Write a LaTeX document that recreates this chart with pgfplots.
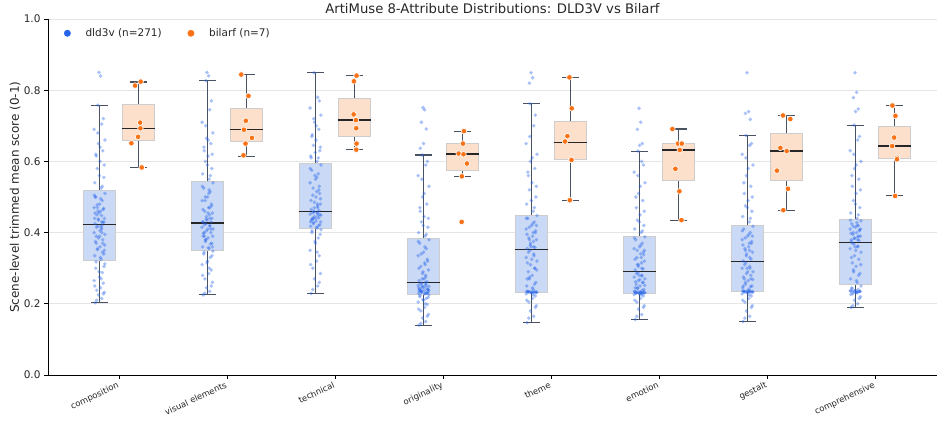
\documentclass[border=0pt]{standalone}
\usepackage{fontspec}
\setmainfont{DejaVu Sans}
\usepackage{pgfplots}
\usepackage{pgfplotstable}
\pgfplotsset{compat=1.18}
\usepgfplotslibrary{statistics}

\definecolor{cblue}{RGB}{37,99,235}
\definecolor{corange}{RGB}{249,115,22}
\definecolor{bfill}{RGB}{201,217,246}
\definecolor{ofill}{RGB}{253,224,204}
\definecolor{wcol}{RGB}{72,82,98}
\definecolor{gridc}{RGB}{229,229,229}
\definecolor{edgec}{RGB}{205,205,205}

% dld3v scene scores (representative subset), columns per attribute
\pgfplotstableread[row sep=\\]{
j y0 y1 y2 y3 y4 y5 y6 y7 \\
-0.04 .203 .225 .229 .140 .147 .156 .150 .190 \\
0.02 .215 .235 .25 .15 .165 .17 .165 .20 \\
-0.01 .225 .245 .27 .16 .18 .185 .18 .21 \\
0.045 .232 .26 .285 .17 .195 .195 .195 .22 \\
-0.025 .238 .27 .30 .18 .205 .205 .205 .228 \\
0.01 .245 .285 .32 .19 .215 .215 .215 .232 \\
0.035 .258 .295 .335 .198 .222 .222 .222 .234 \\
-0.05 .265 .31 .35 .205 .228 .226 .228 .236 \\
0.0 .275 .32 .37 .21 .231 .228 .232 .238 \\
0.025 .288 .33 .385 .215 .233 .229 .234 .24 \\
-0.035 .30 .34 .40 .22 .234 .23 .235 .245 \\
0.05 .312 .348 .408 .225 .232 .231 .233 .25 \\
0.015 .325 .355 .413 .228 .24 .232 .238 .26 \\
-0.045 .335 .36 .418 .23 .25 .235 .245 .27 \\
0.04 .34 .37 .422 .232 .26 .24 .25 .285 \\
-0.02 .352 .375 .428 .235 .27 .245 .26 .295 \\
0.005 .36 .385 .432 .238 .28 .25 .265 .305 \\
-0.03 .37 .39 .437 .24 .29 .255 .27 .315 \\
0.03 .38 .40 .441 .243 .30 .26 .28 .325 \\
-0.01 .385 .405 .445 .246 .31 .265 .285 .335 \\
0.05 .395 .41 .449 .249 .32 .27 .29 .345 \\
-0.05 .40 .415 .452 .252 .33 .275 .30 .355 \\
0.02 .41 .42 .455 .255 .34 .28 .305 .36 \\
-0.015 .418 .425 .458 .258 .35 .287 .315 .368 \\
-0.04 .425 .43 .465 .265 .355 .295 .32 .375 \\
0.02 .43 .44 .475 .275 .36 .30 .33 .38 \\
-0.01 .435 .445 .485 .285 .37 .31 .34 .385 \\
0.045 .44 .455 .495 .295 .38 .32 .345 .39 \\
-0.025 .45 .46 .505 .305 .385 .33 .355 .395 \\
0.01 .46 .47 .515 .315 .39 .34 .36 .40 \\
0.035 .465 .48 .53 .325 .40 .345 .37 .405 \\
-0.05 .47 .49 .54 .335 .41 .355 .38 .41 \\
0.0 .48 .50 .55 .345 .42 .36 .39 .415 \\
0.025 .49 .515 .565 .355 .43 .37 .40 .42 \\
-0.035 .50 .525 .575 .37 .44 .38 .41 .425 \\
0.05 .51 .54 .59 .38 .448 .388 .418 .433 \\
0.015 .525 .55 .60 .39 .46 .40 .43 .44 \\
-0.045 .54 .565 .615 .40 .48 .41 .445 .455 \\
0.04 .555 .58 .63 .415 .50 .42 .46 .47 \\
-0.02 .58 .60 .645 .43 .52 .435 .475 .49 \\
0.005 .60 .615 .66 .445 .54 .45 .49 .51 \\
-0.03 .615 .63 .675 .46 .56 .47 .51 .53 \\
0.03 .63 .65 .69 .48 .58 .49 .53 .55 \\
-0.01 .65 .665 .71 .50 .60 .51 .56 .58 \\
0.05 .66 .68 .73 .53 .62 .54 .59 .60 \\
-0.05 .69 .71 .75 .56 .65 .57 .62 .63 \\
0.02 .705 .745 .78 .59 .70 .60 .645 .66 \\
-0.015 .758 .827 .849 .618 .762 .629 .673 .702 \\
-0.005 .85 .85 nan .751 .849 .749 .849 .849 \\
0.01 .84 .84 nan .745 .835 .71 .74 .794 \\
-0.02 nan nan nan .71 .82 .69 .735 .779 \\
0.025 nan nan nan .691 nan .65 .718 .747 \\
0.0 nan nan nan .65 nan .645 nan .74 \\
-0.03 nan nan nan .637 nan nan nan nan \\
-0.03 .39 .40 .44 .236 .232 .231 .233 .233 \\
0.04 .43 .44 .45 .24 .233 .232 .234 .235 \\
-0.015 .46 .38 .46 .25 .234 .233 .235 .236 \\
0.02 .42 .47 .47 .26 .232 .23 .233 .234 \\
-0.045 .44 .43 .43 .245 .235 .234 .236 .237 \\
0.005 .405 .455 .50 .27 .233 .232 .234 .233 \\
0.03 .37 .41 .52 .23 .30 .26 .27 .39 \\
-0.02 .47 .50 .44 .233 .38 .31 .35 .40 \\
0.045 .35 .36 .48 .24 .42 .35 .39 .41 \\
-0.005 .455 .435 .56 .29 .36 .28 .30 .36 \\
0.015 .415 .52 .455 .31 .40 .33 .37 .42 \\
-0.04 .50 .39 .61 .237 .27 .245 .25 .38 \\
-0.025 .21 .23 .24 .145 .16 .165 .16 .195 \\
0.035 .228 .25 .26 .165 .19 .19 .19 .215 \\
-0.045 .25 .28 .31 .185 .21 .21 .21 .226 \\
0.015 .27 .30 .345 .20 .225 .225 .225 .231 \\
-0.005 .29 .315 .375 .212 .231 .229 .231 .233 \\
0.042 .305 .335 .395 .218 .233 .231 .233 .235 \\
-0.032 .318 .345 .405 .224 .235 .232 .235 .242 \\
0.008 .33 .358 .415 .229 .245 .234 .24 .265 \\
0.028 .345 .368 .42 .231 .255 .238 .248 .28 \\
-0.018 .355 .38 .425 .234 .275 .243 .255 .29 \\
0.048 .365 .39 .43 .237 .295 .252 .268 .31 \\
-0.038 .375 .398 .435 .242 .315 .262 .275 .33 \\
0.002 .39 .41 .44 .247 .325 .268 .29 .35 \\
0.022 .40 .418 .447 .251 .335 .278 .30 .362 \\
-0.028 .415 .422 .456 .256 .345 .285 .31 .37 \\
0.032 .428 .43 .462 .262 .358 .298 .325 .378 \\
-0.012 .438 .438 .47 .27 .365 .305 .335 .383 \\
0.018 .448 .45 .48 .28 .375 .315 .35 .388 \\
-0.042 .455 .465 .49 .30 .395 .325 .365 .398 \\
0.038 .468 .475 .51 .32 .405 .338 .375 .408 \\
-0.022 .478 .49 .525 .34 .415 .35 .385 .418 \\
0.012 .495 .51 .555 .36 .425 .365 .395 .428 \\
-0.048 .505 .53 .58 .375 .44 .385 .405 .435 \\
0.026 .53 .56 .61 .395 .47 .405 .44 .45 \\
-0.002 .56 .59 .625 .42 .49 .43 .47 .48 \\
0.044 .59 .62 .64 .44 .53 .46 .50 .52 \\
-0.034 .62 .64 .67 .47 .57 .50 .54 .56 \\
0.006 .64 .66 .70 .51 .61 .53 .58 .59 \\
-0.016 .68 .70 .72 .55 .67 .56 .61 .62 \\
0.036 .72 .77 .77 .60 .73 .59 .65 .67 \\
}\dld

% bilarf scene scores: category, jitter, value
\pgfplotstableread[row sep=\\]{
c j y \\
0 0.021 .824 \\ 0 -0.031 .813 \\ 0 0.016 .709 \\ 0 0.019 .693 \\ 0 -0.003 .669 \\ 0 -0.065 .651 \\ 0 0.031 .583 \\
1 -0.048 .844 \\ 1 0.019 .784 \\ 1 -0.005 .714 \\ 1 -0.023 .689 \\ 1 0.051 .666 \\ 1 -0.008 .650 \\ 1 -0.027 .617 \\
2 0.02 .841 \\ 2 -0.005 .825 \\ 2 -0.007 .732 \\ 2 0.014 .716 \\ 2 0.017 .693 \\ 2 0.02 .650 \\ 2 0.017 .633 \\
3 0.014 .685 \\ 3 0.005 .650 \\ 3 -0.035 .622 \\ 3 0.01 .620 \\ 3 0.042 .594 \\ 3 -0.005 .558 \\ 3 -0.007 .430 \\
4 -0.009 .836 \\ 4 0.012 .749 \\ 4 -0.028 .671 \\ 4 -0.05 .656 \\ 4 0.006 .606 \\ 4 0.01 .604 \\ 4 -0.006 .491 \\
5 -0.056 .691 \\ 5 -0.004 .650 \\ 5 0.031 .650 \\ 5 0.012 .632 \\ 5 -0.028 .579 \\ 5 0.009 .516 \\ 5 0.028 .435 \\
6 -0.032 .729 \\ 6 0.036 .719 \\ 6 -0.056 .638 \\ 6 0.002 .629 \\ 6 -0.088 .574 \\ 6 0.014 .523 \\ 6 -0.029 .463 \\
7 -0.019 .757 \\ 7 0.009 .728 \\ 7 -0.003 .667 \\ 7 -0.021 .643 \\ 7 0.025 .610 \\ 7 0.024 .606 \\ 7 0.006 .503 \\
}\bil

\newcommand{\dbox}[6]{\addplot[dbx, boxplot prepared={draw position=#1, lower whisker=#2, lower quartile=#3, median=#4, upper quartile=#5, upper whisker=#6}] coordinates {};}
\newcommand{\bbox}[6]{\addplot[bbx, boxplot prepared={draw position=#1, lower whisker=#2, lower quartile=#3, median=#4, upper quartile=#5, upper whisker=#6}] coordinates {};}
\newcommand{\dpts}[2]{\addplot[dpt] table[x expr=\thisrow{j}+#1, y=#2] {\dld};}

\begin{document}
\begin{tikzpicture}
\begin{axis}[name=ax, at={(0,0)}, anchor=south west, scale only axis,
  width=889pt, height=356pt,
  xmin=-0.657, xmax=7.574, ymin=0, ymax=1,
  axis x line*=bottom, axis y line*=left,
  axis line style={-, black, line width=0.8pt},
  xtick={0,1,2,3,4,5,6,7},
  xticklabels={composition, visual elements, technical, originality, theme, emotion, gestalt, comprehensive},
  xticklabel style={rotate=25, anchor=north east, font=\fontsize{8.5}{10}\selectfont, inner sep=1pt, text=black!85, xshift=-2pt},
  ytick={0,0.2,0.4,0.6,0.8,1},
  yticklabels={0.0,0.2,0.4,0.6,0.8,1.0},
  yticklabel style={font=\fontsize{10.5}{12}\selectfont, text=black!85},
  ymajorgrids, grid style={gridc, line width=0.8pt},
  tick align=outside, major tick length=4pt, tick style={black, line width=0.8pt},
  ylabel={Scene-level trimmed mean score (0-1)},
  ylabel style={font=\fontsize{12}{14}\selectfont, at={(axis description cs:-0.0371,0.5)}, anchor=center, text=black!85},
  title={ArtiMuse 8-Attribute Distributions: DLD3V vs Bilarf},
  every axis title/.style={at={(axis description cs:0.5,1)}, anchor=base, yshift=5pt, font=\fontsize{13.2}{15}\selectfont, text=black!85},
  legend style={at={(axis description cs:0.0146,0.985)}, anchor=north west, draw=none, fill=none,
    legend columns=2, font=\fontsize{10.5}{12}\selectfont, text=black!85,
    /tikz/every odd column/.append style={column sep=13pt},
    /tikz/every even column/.append style={column sep=24pt}},
  dbx/.style={boxplot/draw direction=y, draw=edgec, fill=bfill, line width=0.8pt,
    boxplot/box extend=0.3, boxplot/whisker extend=0.15},
  bbx/.style={boxplot/draw direction=y, draw=edgec, fill=ofill, line width=0.8pt,
    boxplot/box extend=0.3, boxplot/whisker extend=0.15},
  boxplot/every whisker/.style={draw=wcol, line width=1.1pt},
  boxplot/every median/.style={draw=black!85, line width=1.3pt},
  dpt/.style={only marks, mark=*, mark size=1.9pt, color=cblue, mark options={draw=cblue, fill=cblue, draw opacity=0, fill opacity=0.4}},
]
\addlegendimage{only marks, mark=*, mark size=3.2pt, color=cblue, mark options={draw=cblue, fill=cblue}}
\addlegendimage{only marks, mark=*, mark size=3.2pt, color=corange, mark options={draw=corange, fill=corange}}
\legend{dld3v (n=271), bilarf (n=7)}

\dbox{-0.18}{0.203}{0.322}{0.422}{0.519}{0.758}
\dbox{0.82}{0.225}{0.351}{0.427}{0.544}{0.827}
\dbox{1.82}{0.229}{0.411}{0.459}{0.595}{0.849}
\dbox{2.82}{0.140}{0.227}{0.259}{0.384}{0.618}
\dbox{3.82}{0.147}{0.233}{0.352}{0.449}{0.762}
\dbox{4.82}{0.156}{0.230}{0.290}{0.390}{0.629}
\dbox{5.82}{0.150}{0.234}{0.318}{0.420}{0.673}
\dbox{6.82}{0.190}{0.255}{0.372}{0.437}{0.702}

\bbox{0.18}{0.583}{0.659}{0.692}{0.761}{0.823}
\bbox{1.18}{0.615}{0.657}{0.689}{0.749}{0.844}
\bbox{2.18}{0.633}{0.670}{0.716}{0.777}{0.841}
\bbox{3.18}{0.558}{0.576}{0.621}{0.650}{0.685}
\bbox{4.18}{0.491}{0.605}{0.654}{0.711}{0.836}
\bbox{5.18}{0.435}{0.547}{0.632}{0.650}{0.691}
\bbox{6.18}{0.463}{0.548}{0.629}{0.679}{0.729}
\bbox{7.18}{0.503}{0.608}{0.643}{0.698}{0.757}

\dpts{-0.18}{y0}
\dpts{0.82}{y1}
\dpts{1.82}{y2}
\dpts{2.82}{y3}
\dpts{3.82}{y4}
\dpts{4.82}{y5}
\dpts{5.82}{y6}
\dpts{6.82}{y7}

\addplot[only marks, mark=*, mark size=2.8pt, color=corange, mark options={draw=white, fill=corange, line width=0.6pt}]
  table[x expr=\thisrow{c}+0.18+\thisrow{j}, y=y] {\bil};
\end{axis}
\pgfresetboundingbox
\path (-48pt,-48pt) rectangle (889pt,375pt);
\end{tikzpicture}
\end{document}
